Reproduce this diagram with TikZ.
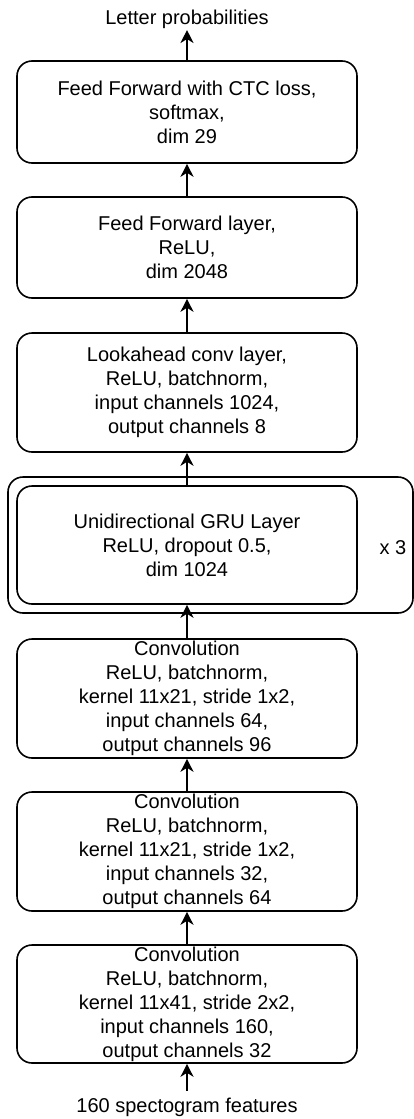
\documentclass[tikz,border=0pt]{standalone}
\usepackage{fontspec}
\setmainfont{Liberation Sans}
\usepackage{tikz}
\usetikzlibrary{arrows.meta,positioning}
\tikzstyle{layer} = [draw,line width=1.6pt,rounded corners=15pt,minimum width=340pt,align=center,inner sep=0pt]
\tikzstyle{label} = [inner sep=0pt]
\tikzset{>={Stealth[length=13pt,width=13pt,inset=4pt]}}

\begin{document}
\begin{tikzpicture}[x=1pt,y=-1pt,font=\fontsize{20}{24}\selectfont]
    \useasboundingbox (0,0) rectangle (414,1119);

    \node [label] (out) at (187,19) {Letter probabilities};
    \node [layer,minimum height=102pt] (ctc) at (187,112) {Feed Forward with CTC loss,\\softmax,\\dim 29};
    \node [layer,minimum height=101pt] (ff) at (187,247.5) {Feed Forward layer,\\ReLU,\\dim 2048};
    \node [layer,minimum height=119pt] (look) at (187,392.5) {Lookahead conv layer,\\ReLU, batchnorm,\\input channels 1024,\\output channels 8};

    \node [layer,minimum width=405pt,minimum height=136pt] (rep) at (210.5,545) {};
    \node [layer,minimum height=118pt] (gru) at (187,545) {Unidirectional GRU Layer\\ReLU, dropout 0.5,\\dim 1024};
    \node [label] (times) at (393,548) {x 3};

    \node [layer,minimum height=119pt] (conva) at (187,698.5) {Convolution\\ReLU, batchnorm,\\kernel 11x21, stride 1x2,\\input channels 64,\\output channels 96};
    \node [layer,minimum height=119pt] (convb) at (187,851.5) {Convolution\\ReLU, batchnorm,\\kernel 11x21, stride 1x2,\\input channels 32,\\output channels 64};
    \node [layer,minimum height=118pt] (convc) at (187,1004) {Convolution\\ReLU, batchnorm,\\kernel 11x41, stride 2x2,\\input channels 160,\\output channels 32};
    \node [label] (in) at (187,1107) {160 spectogram features};

    \draw [->,line width=1.6pt,shorten <=7pt] (in) -- (convc);
    \draw [->,line width=1.6pt] (convc) -- (convb);
    \draw [->,line width=1.6pt] (convb) -- (conva);
    \draw [->,line width=1.6pt] (conva) -- (gru);
    \draw [->,line width=1.6pt] (gru) -- (look);
    \draw [->,line width=1.6pt] (look) -- (ff);
    \draw [->,line width=1.6pt] (ff) -- (ctc);
    \draw [->,line width=1.6pt,shorten >=1.5pt] (ctc) -- (out);
\end{tikzpicture}
\end{document}
